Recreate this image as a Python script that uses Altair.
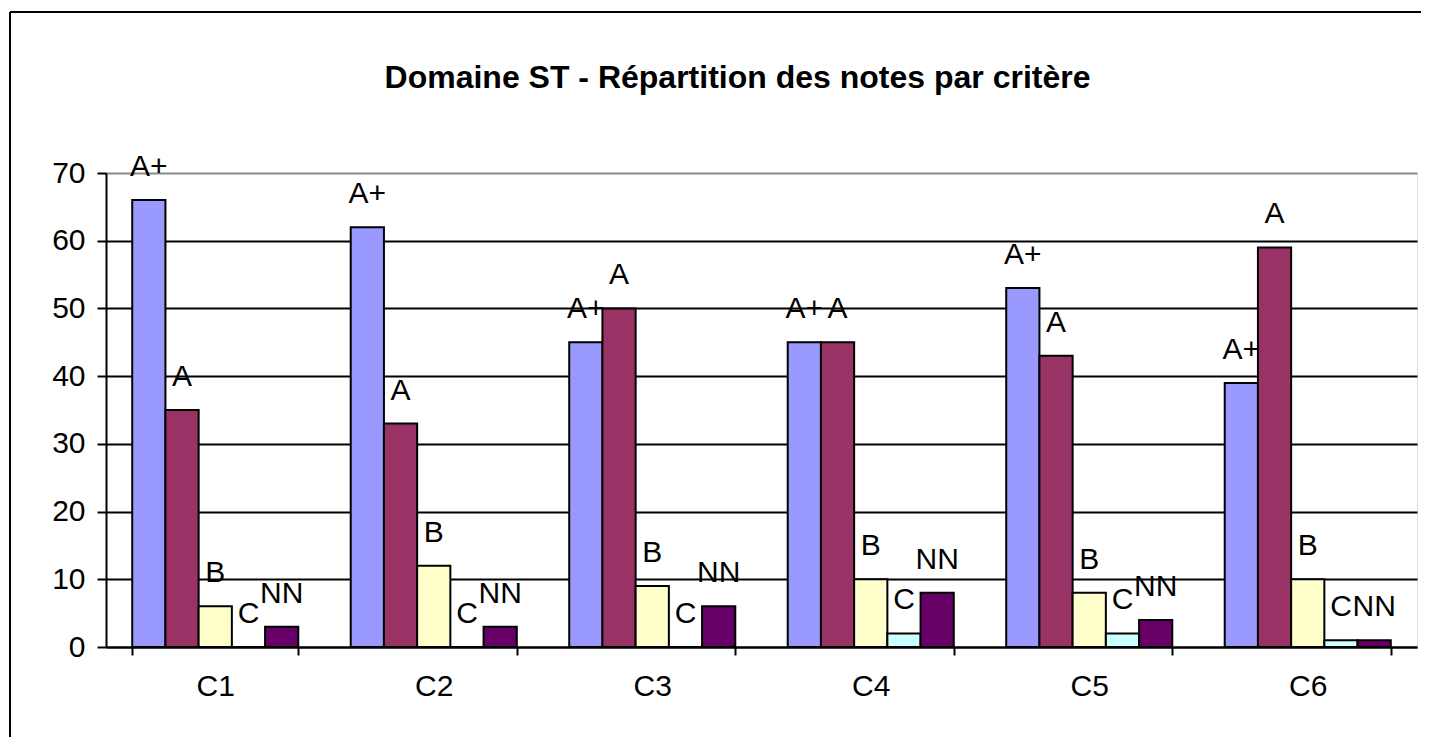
import altair as alt
import pandas as pd

criteres = ["C1", "C2", "C3", "C4", "C5", "C6"]
notes = ["A+", "A", "B", "C", "NN"]
serie_a_plus = [66, 62, 45, 45, 53, 39]
serie_a = [35, 33, 50, 45, 43, 59]
serie_b = [6, 12, 9, 10, 8, 10]
serie_c = [0, 0, 0, 2, 2, 1]
serie_nn = [3, 3, 6, 8, 4, 1]
couleurs = ["#9999FF", "#993366", "#FFFFCC", "#CCFFFF", "#660066"]
y_ticks = [0, 10, 20, 30, 40, 50, 60, 70]

series = [serie_a_plus, serie_a, serie_b, serie_c, serie_nn]
rows = []
for i, crit in enumerate(criteres):
    for note, serie in zip(notes, series):
        rows.append({"Critère": crit, "Note": note, "Valeur": serie[i]})
df = pd.DataFrame(rows)

FONT = "Liberation Sans"
FS = 30

x_enc = alt.X(
    "Critère:N",
    sort=criteres,
    title=None,
    scale=alt.Scale(paddingInner=0.24, paddingOuter=0.12),
    axis=alt.Axis(
        labelAngle=0, tickBand="extent", labelFontSize=FS, labelFont=FONT,
        labelColor="black", labelPadding=16, tickSize=8, tickColor="black",
        tickWidth=2, domainColor="black", domainWidth=2, grid=False,
    ),
)
xo_enc = alt.XOffset("Note:N", sort=notes, scale=alt.Scale(paddingInner=0, paddingOuter=0))
y_enc = alt.Y(
    "Valeur:Q",
    title=None,
    scale=alt.Scale(domain=[0, 70], nice=False),
    axis=alt.Axis(
        values=y_ticks, labelFontSize=FS, labelFont=FONT, labelColor="black",
        labelPadding=12, tickSize=9, tickColor="black", tickWidth=2,
        domainColor="black", domainWidth=2, grid=True,
        gridColor={"condition": {"test": "datum.value === 70", "value": "#8a8a8a"}, "value": "black"},
        gridWidth=2, gridOpacity=1,
    ),
)
color_enc = alt.Color("Note:N", sort=notes, scale=alt.Scale(domain=notes, range=couleurs), legend=None)

bars = alt.Chart(df).mark_bar(stroke="black", strokeWidth=2, strokeOpacity=1).encode(
    x=x_enc, xOffset=xo_enc, y=y_enc, color=color_enc
)
labels = alt.Chart(df).mark_text(
    baseline="alphabetic", dy=-24, fontSize=FS, font=FONT, color="black"
).encode(x=x_enc, xOffset=xo_enc, y=y_enc, text="Note:N")

frame_df = pd.DataFrame({"k": [0]})
frame_top = alt.Chart(frame_df).mark_rule(color="black", strokeWidth=2).encode(
    x=alt.value(-96), x2=alt.value(1330), y=alt.value(-161)
)
frame_left = alt.Chart(frame_df).mark_rule(color="black", strokeWidth=2).encode(
    x=alt.value(-96), y=alt.value(-161), y2=alt.value(600)
)

chart = alt.layer(frame_top, frame_left, bars, labels).properties(
    width=1311,
    height=474,
    title=alt.Title(
        "Domaine ST - Répartition des notes par critère",
        fontSize=32, fontWeight="bold", font=FONT, color="black",
        anchor="middle", frame="group", offset=-84, dx=-24,
    ),
    padding={"left": 98, "top": 165, "right": 4, "bottom": 90},
    autosize=alt.AutoSizeParams(type="none"),
).configure_view(fill="#C0C0C0", stroke="#8a8a8a", strokeWidth=2).configure(background="white")

chart.save("out.html", embed_options={"renderer": "svg", "actions": False})
